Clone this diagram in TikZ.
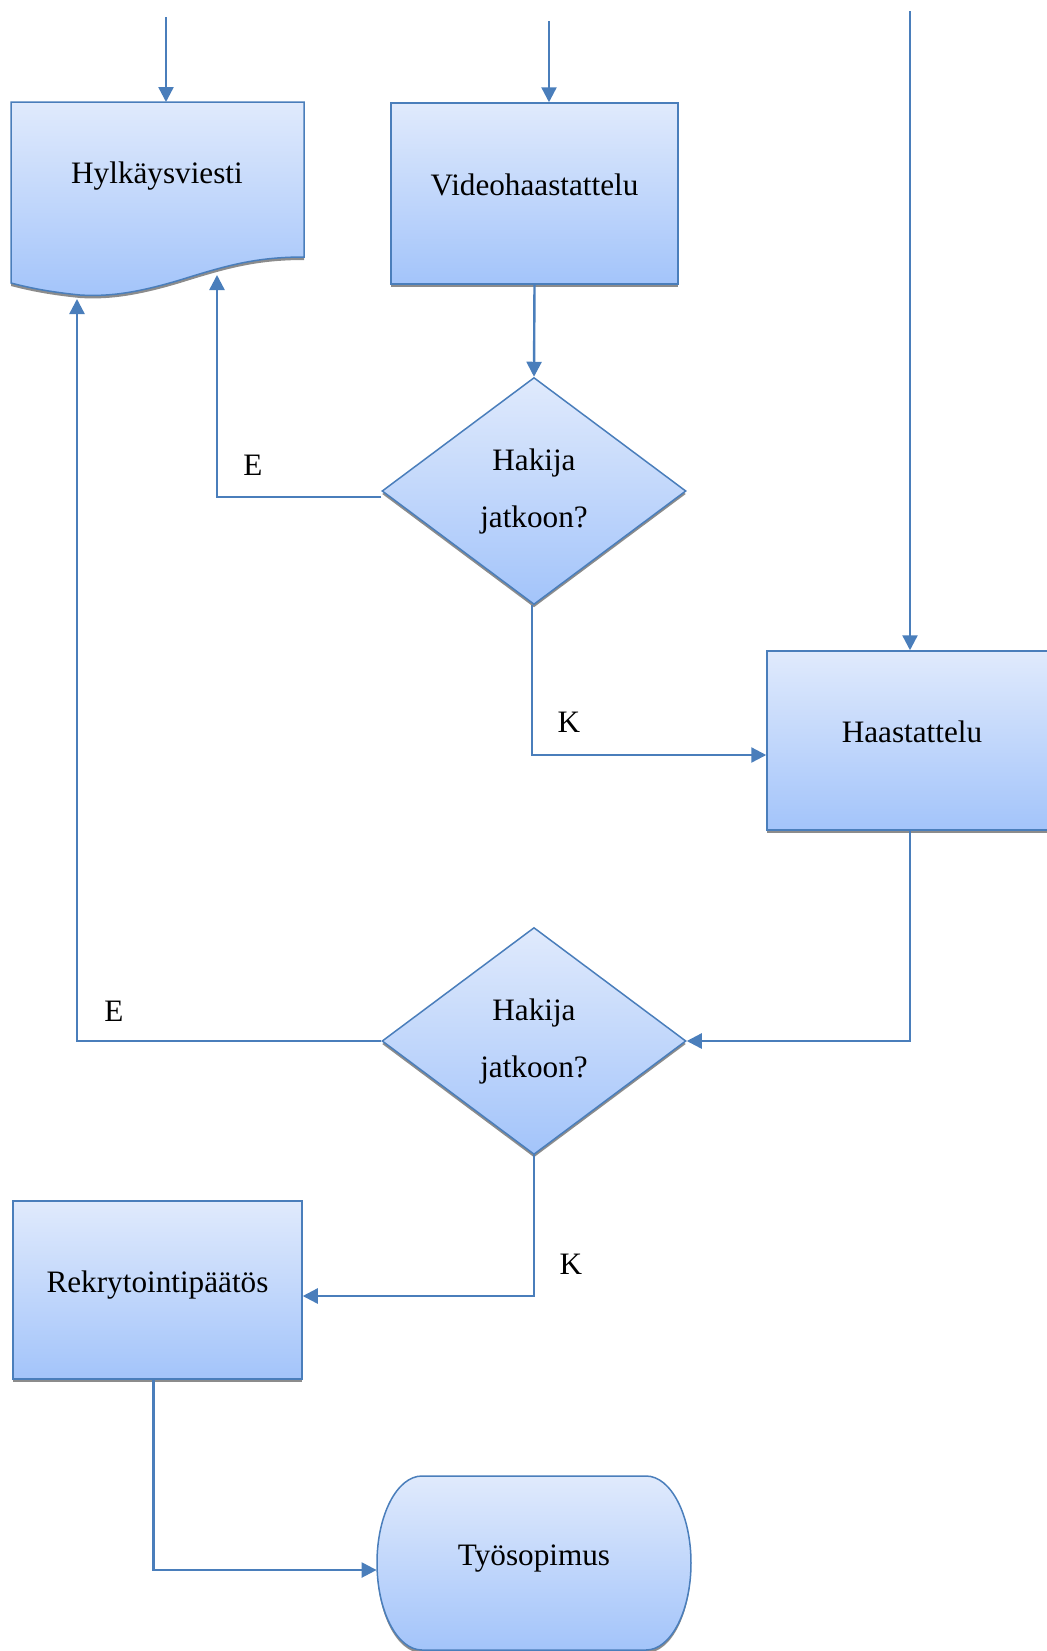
\documentclass[tikz,border=0pt]{standalone}
\usepackage{fontspec}
\setmainfont{Liberation Serif}
\usetikzlibrary{shapes.geometric,shadows,calc,arrows.meta}
\definecolor{wordblue}{HTML}{4A7EBB}
\definecolor{gtop}{HTML}{E0EAFC}
\definecolor{gbot}{HTML}{A3C4FA}
\begin{document}
\begin{tikzpicture}[x=0.5pt,y=-0.5pt,
  every node/.style={font=\fontsize{15.6}{18}\selectfont},
  shapefill/.style={draw=wordblue, line width=0.75pt, top color=gtop, bottom color=gbot,
    drop shadow={shadow xshift=0pt, shadow yshift=-1.5pt, fill=black!45, opacity=1}},
  procbox/.style={shapefill, rectangle, inner sep=0pt, text height=11pt, text depth=9pt},
  decbox/.style={shapefill, diamond, inner sep=0pt, align=center, minimum width=152pt, minimum height=113.5pt},
  conn/.style={draw=wordblue, line width=1.2pt, -{Triangle[length=7.5pt,width=7.5pt]}},
  lbl/.style={inner sep=0pt}]
\useasboundingbox (0,0) rectangle (1046,1651);

% document shape (Hylkaysviesti)
\path[shapefill] (11,102) -- (304,102) -- (304,257)
  .. controls (255,257) and (225,266) .. (180,280)
  .. controls (140,292) and (110,297) .. (80,295)
  .. controls (50,292) and (30,288) .. (11,283) -- cycle;
\node (hyl) at (157,176) {Hylkäysviesti};
\coordinate (hylTop) at (166,102);
\coordinate (hylA) at (77,299);
\coordinate (hylB) at (217,275);

% terminator shape (Tyosopimus)
\path[shapefill] (422,1476) -- (646,1476)
  .. controls (670.9,1476) and (691,1515) .. (691,1563)
  .. controls (691,1611) and (670.9,1650) .. (646,1650)
  -- (422,1650)
  .. controls (397.1,1650) and (377,1611) .. (377,1563)
  .. controls (377,1515) and (397.1,1476) .. (422,1476) -- cycle;
\node[minimum width=157pt, minimum height=87pt, inner sep=0pt, text height=11pt, text depth=9pt] (tyo) at (534,1563) {Työsopimus};

\node[procbox, minimum width=143.5pt, minimum height=90.5pt] (video) at (534.5,193.5) {Videohaastattelu};
\node[procbox, minimum width=145pt, minimum height=89.5pt] (haas) at (912,740.5) {Haastattelu};
\node[procbox, minimum width=144.5pt, minimum height=89pt] (rek) at (157.5,1290) {Rekrytointipäätös};
\node[decbox] (d1) at (534,491) {Hakija\\[10.5pt]jatkoon?};
\node[decbox] (d2) at (534,1041) {Hakija\\[10.5pt]jatkoon?};

\coordinate (inA) at (166,17);
\coordinate (inB) at (549,21);
\coordinate (inC) at (910,11);

\draw[conn] (inA) -- (hylTop);
\draw[conn] (inB) -- (inB |- video.north);
\draw[conn] (inC) -- (inC |- haas.north);
\draw[conn] (video.south) -- (d1.north);
\draw[conn] ($(d1.west)+(0,6)$) -| (hylB);
\draw[conn] ($(d1.south)+(-2,0)$) |- ($(haas.west)+(0,14.5)$);
\draw[conn] ($(haas.south)+(-2,0)$) |- (d2.east);
\draw[conn] (d2.west) -| (hylA);
\draw[conn] (d2.south) |- ($(rek.east)+(0,6)$);
\draw[conn] ($(rek.south)+(-4,0)$) |- ($(tyo.west)+(0,7)$);

\node[lbl] (e1) at (253,465) {E};
\node[lbl] (k1) at (569,722) {K};
\node[lbl] (e2) at (114,1011) {E};
\node[lbl] (k2) at (571,1264) {K};
\end{tikzpicture}
\end{document}
